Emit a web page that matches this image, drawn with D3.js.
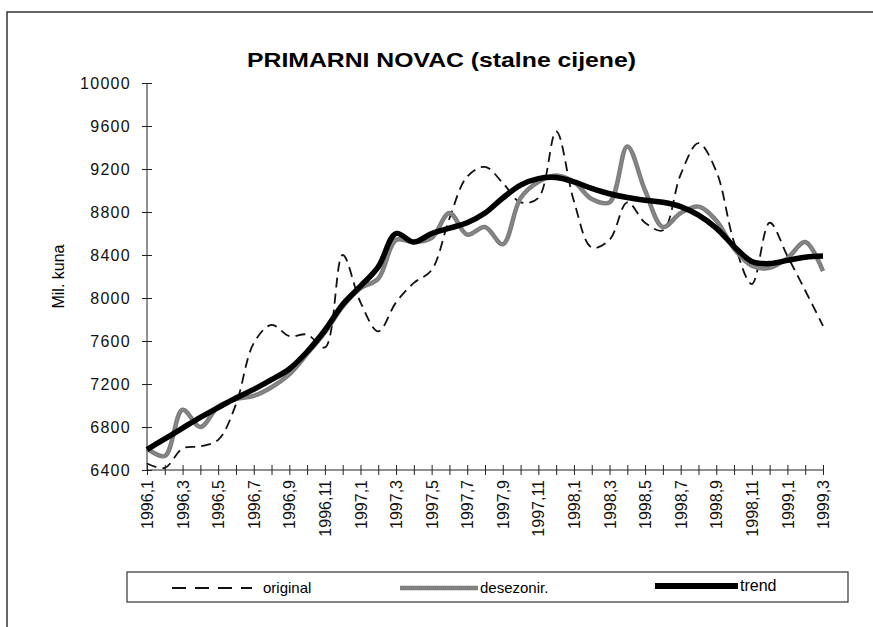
<!DOCTYPE html>
<html>
<head>
<meta charset="utf-8">
<script src="https://cdn.jsdelivr.net/npm/d3@7"></script>
<style>
  html, body { margin: 0; padding: 0; background: #fff; }
  svg { display: block; font-family: "Liberation Sans", Arial, sans-serif; }
</style>
</head>
<body>
<div id="chart"></div>
<script>
// mjeseci 1996,1 .. 1999,3
var months = [
  '1996,1','1996,2','1996,3','1996,4','1996,5','1996,6','1996,7','1996,8','1996,9','1996,10','1996,11','1996,12',
  '1997,1','1997,2','1997,3','1997,4','1997,5','1997,6','1997,7','1997,8','1997,9','1997,10','1997,11','1997,12',
  '1998,1','1998,2','1998,3','1998,4','1998,5','1998,6','1998,7','1998,8','1998,9','1998,10','1998,11','1998,12',
  '1999,1','1999,2','1999,3'
];

var original = [
  6460, 6420, 6600, 6620, 6680, 7010, 7580, 7750, 7645, 7660, 7540, 8400,
  7960, 7690, 7960, 8140, 8260, 8740, 9130, 9220, 9070, 8890, 8930, 9550,
  8900, 8470, 8540, 8890, 8700, 8630, 9150, 9440, 9180, 8520, 8130, 8700,
  8390, 8070, 7740
];

var desezonir = [
  6600, 6530, 6960, 6800, 6990, 7060, 7090, 7170, 7290, 7480, 7680, 7920,
  8090, 8180, 8540, 8520, 8560, 8790, 8590, 8660, 8500, 8930, 9080, 9140,
  9080, 8920, 8890, 9410, 9000, 8660, 8790, 8850, 8720, 8460, 8300, 8280,
  8370, 8520, 8250
];

var trend = [
  6590, 6690, 6790, 6890, 6980, 7070, 7150, 7240, 7340, 7500, 7700, 7940,
  8110, 8290, 8600, 8520, 8600, 8650, 8700, 8790, 8930, 9050, 9110, 9120,
  9080, 9020, 8970, 8935, 8910, 8890, 8850, 8770, 8650, 8480, 8340, 8320,
  8350, 8380, 8390
];

var yTicks = [6400, 6800, 7200, 7600, 8000, 8400, 8800, 9200, 9600, 10000];

var W = 873, H = 627;
var svg = d3.select('#chart').append('svg')
  .attr('width', W).attr('height', H);

svg.append('rect').attr('width', W).attr('height', H).attr('fill', '#fff');

// okvir (gore i lijevo)
svg.append('path')
  .attr('d', 'M7,' + H + ' L7,12 L' + W + ',12')
  .attr('fill', 'none').attr('stroke', '#333').attr('stroke-width', 1.5);

var x = d3.scalePoint().domain(months).range([147, 823]);
var y = d3.scaleLinear().domain([6400, 10000]).range([470, 83]);

// naslov
svg.append('text')
  .attr('x', 247).attr('y', 67)
  .attr('font-size', '21px').attr('font-weight', 'bold')
  .attr('textLength', 389).attr('lengthAdjust', 'spacingAndGlyphs')
  .text('PRIMARNI NOVAC (stalne cijene)');

// y os
var yAxis = svg.append('g')
  .attr('transform', 'translate(147,0)')
  .call(d3.axisLeft(y).tickValues(yTicks).tickFormat(d3.format('d'))
    .tickSize(5).tickPadding(11));
yAxis.selectAll('.tick line').attr('x1', -5).attr('x2', 5);
yAxis.select('.domain').attr('d', 'M0,' + y(10000) + 'V' + y(6400));
yAxis.selectAll('text').attr('font-size', '16px').attr('fill', '#111')
  .attr('letter-spacing', '1.3px')
  .attr('font-family', '"Liberation Sans", Arial, sans-serif');
yAxis.selectAll('line, path').attr('stroke', '#222');

svg.append('text')
  .attr('transform', 'translate(64,' + y(8200) + ') rotate(-90)')
  .attr('text-anchor', 'middle')
  .attr('font-size', '16px')
  .text('Mil. kuna');

// x os
var xAxis = svg.append('g')
  .attr('transform', 'translate(0,' + y(6400) + ')')
  .call(d3.axisBottom(x).tickSize(5).tickPadding(6)
    .tickFormat(function(d, i) { return i % 2 === 0 ? d : ''; }));
xAxis.selectAll('.tick line').attr('y1', -5).attr('y2', 5);
xAxis.select('.domain').attr('d', 'M147,0H823');
xAxis.selectAll('line, path').attr('stroke', '#222');
xAxis.selectAll('text')
  .attr('font-size', '16px').attr('fill', '#111')
  .attr('font-family', '"Liberation Sans", Arial, sans-serif')
  .attr('text-anchor', 'end')
  .attr('dy', '0.35em')
  .attr('transform', 'translate(0,4) rotate(-90)')
  .attr('x', -6).attr('y', 0);

var line = d3.line()
  .x(function(d, i) { return x(months[i]); })
  .y(function(d) { return y(d); })
  .curve(d3.curveCatmullRom.alpha(0.5));

svg.append('path').datum(original)
  .attr('d', line).attr('fill', 'none')
  .attr('stroke', '#111').attr('stroke-width', 1.8)
  .attr('stroke-dasharray', '10,6');

svg.append('path').datum(desezonir)
  .attr('d', line).attr('fill', 'none')
  .attr('stroke', '#7c7c7c').attr('stroke-width', 4.5);
svg.append('path').datum(desezonir)
  .attr('d', line).attr('fill', 'none')
  .attr('stroke', '#9a9a9a').attr('stroke-width', 1.2)
  .attr('stroke-dasharray', '1,1');

svg.append('path').datum(trend)
  .attr('d', line).attr('fill', 'none')
  .attr('stroke', '#000').attr('stroke-width', 5.5);

// legenda
var leg = svg.append('g');
leg.append('rect')
  .attr('x', 127).attr('y', 572).attr('width', 721).attr('height', 30)
  .attr('fill', '#fff').attr('stroke', '#333').attr('stroke-width', 1.2);

var ly = 588;
leg.append('line').attr('x1', 172).attr('x2', 252).attr('y1', ly).attr('y2', ly)
  .attr('stroke', '#111').attr('stroke-width', 1.8).attr('stroke-dasharray', '14,9');
leg.append('text').attr('x', 263).attr('y', ly + 5).attr('font-size', '15px').text('original');

leg.append('line').attr('x1', 400).attr('x2', 478).attr('y1', ly).attr('y2', ly)
  .attr('stroke', '#7c7c7c').attr('stroke-width', 4.5);
leg.append('line').attr('x1', 400).attr('x2', 478).attr('y1', ly).attr('y2', ly)
  .attr('stroke', '#9a9a9a').attr('stroke-width', 1.2).attr('stroke-dasharray', '1,1');
leg.append('text').attr('x', 480).attr('y', ly + 5).attr('font-size', '15px').text('desezonir.');

leg.append('line').attr('x1', 655).attr('x2', 738).attr('y1', ly - 2).attr('y2', ly - 2)
  .attr('stroke', '#000').attr('stroke-width', 6);
leg.append('text').attr('x', 740).attr('y', ly + 3).attr('font-size', '16px').text('trend');
</script>
</body>
</html>
